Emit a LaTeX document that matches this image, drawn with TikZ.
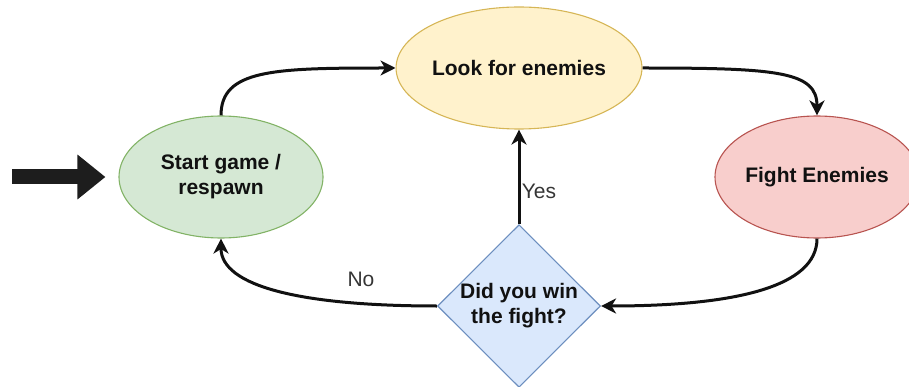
\documentclass[tikz,border=0pt]{standalone}
\usepackage{fontspec}
\setmainfont{Liberation Sans}
\usetikzlibrary{shapes.geometric,arrows.meta}

\definecolor{greenfill}{HTML}{D5E8D4}
\definecolor{greenline}{HTML}{82B366}
\definecolor{yellowfill}{HTML}{FFF2CC}
\definecolor{yellowline}{HTML}{D6B656}
\definecolor{redfill}{HTML}{F8CECC}
\definecolor{redline}{HTML}{B85450}
\definecolor{bluefill}{HTML}{DAE8FC}
\definecolor{blueline}{HTML}{6C8EBF}
\definecolor{ink}{HTML}{111111}

\tikzset{
  statebox/.style={ellipse, draw, line width=1.1pt, inner sep=0pt,
    minimum width=204pt, minimum height=122pt, align=center,
    font=\fontsize{21}{25}\selectfont\bfseries, text=ink},
  choicebox/.style={diamond, draw=blueline, fill=bluefill, line width=1.1pt,
    inner sep=0pt, aspect=1, minimum width=163pt, minimum height=162pt,
    align=center, font=\fontsize{21}{25}\selectfont\bfseries, text=ink},
  flow/.style={draw=ink, line width=3pt,
    -{Stealth[length=15pt,width=15pt,inset=4.5pt]}},
  edgelabel/.style={font=\fontsize{21}{25}\selectfont, text=ink!85}
}

\begin{document}
\begin{tikzpicture}[x=1pt,y=-1pt]
  \clip (0,0) rectangle (909,387);

  % states
  \node[statebox, fill=greenfill, draw=greenline] (start) at (221,177) {Start game /\\respawn};
  \node[statebox, fill=yellowfill, draw=yellowline] (look) at (519,68) {Look for enemies};
  \node[statebox, fill=redfill, draw=redline] (fight) at (817,177) {Fight Enemies};
  \node[choicebox] (win) at (519,306) {Did you win\\the fight?};

  % entry arrow
  \coordinate (entry) at (12,177);
  \draw[ink!95, line width=15pt, shorten >=13pt,
        -{Triangle[length=28pt,width=43pt]}] (entry) -- (start.west);

  % transitions
  \draw[flow] (start.north) .. controls +(0,-46) and +(-122,0) .. (look.west);
  \draw[flow] (look.east) .. controls +(135,0) and +(0,-44) .. (fight.north);
  \draw[flow] (fight.south) .. controls +(0,48) and +(135,0) .. (win.east);
  \draw[flow] (win.west) .. controls +(-135,0) and +(0,48) .. (start.south);
  \draw[flow] (win.north) -- (look.south);

  % branch labels
  \node[edgelabel] (yes) at (539,191) {Yes};
  \node[edgelabel] (no) at (361,279) {No};
\end{tikzpicture}
\end{document}
